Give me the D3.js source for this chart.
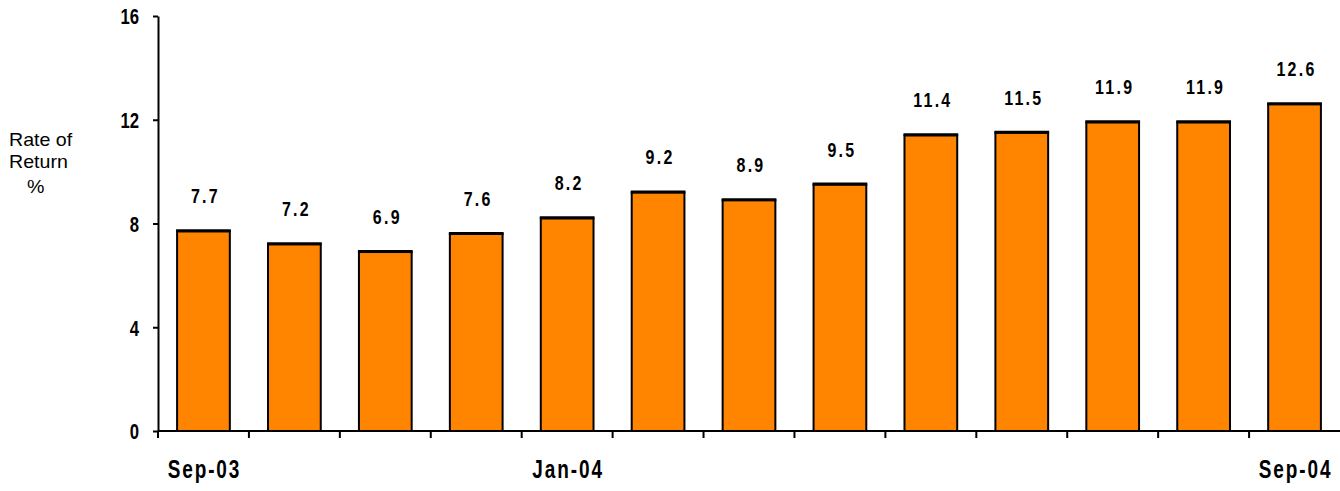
<!DOCTYPE html>
<html>
<head>
<meta charset="utf-8">
<script src="https://cdn.jsdelivr.net/npm/d3@7"></script>
<style>
  body { margin: 0; background: #fff; }
  .axis path, .axis line { stroke: #000; stroke-width: 2; }
  .narrow { font-family: "Liberation Sans", Arial, sans-serif; font-weight: bold; fill: #000; }
  .ylab { font-family: "Liberation Sans", Arial, sans-serif; font-size: 18.5px; }
</style>
</head>
<body>
<svg width="1340" height="491"></svg>
<script>
let months = ["Sep-03", "Oct-03", "Nov-03", "Dec-03", "Jan-04", "Feb-04", "Mar-04",
              "Apr-04", "May-04", "Jun-04", "Jul-04", "Aug-04", "Sep-04"];
let returns = [7.7, 7.2, 6.9, 7.6, 8.2, 9.2, 8.9, 9.5, 11.4, 11.5, 11.9, 11.9, 12.6];
let shownLabels = ["Sep-03", "Jan-04", "Sep-04"];
let yTicks = [0, 4, 8, 12, 16];

let data = months.map((m, i) => ({month: m, value: returns[i]}));

let svg = d3.select("svg"),
    margin = {top: 16, right: 0, bottom: 60, left: 158},
    width = +svg.attr("width") - margin.left - margin.right,
    height = +svg.attr("height") - margin.top - margin.bottom;

let x = d3.scaleBand().domain(months).range([0, width]).paddingInner(0.42).paddingOuter(0.21),
    y = d3.scaleLinear().domain([0, 16]).range([height, 0]);

let squeeze = 0.76; // fake a narrow bold face

let g = svg.append("g")
    .attr("transform", "translate(" + margin.left + "," + margin.top + ")");

// bars
g.selectAll(".bar")
    .data(data)
    .enter().append("rect")
    .attr("class", "bar")
    .attr("x", d => x(d.month))
    .attr("y", d => y(d.value))
    .attr("width", x.bandwidth())
    .attr("height", d => height - y(d.value))
    .attr("fill", "#FF8400")
    .attr("stroke", "#000")
    .attr("stroke-width", 2);

// thicker top edge
g.selectAll(".bartop")
    .data(data)
    .enter().append("line")
    .attr("x1", d => x(d.month) - 1)
    .attr("x2", d => x(d.month) + x.bandwidth() + 1)
    .attr("y1", d => y(d.value) - 0.5)
    .attr("y2", d => y(d.value) - 0.5)
    .attr("stroke", "#000")
    .attr("stroke-width", 3);

// value labels
g.selectAll(".val")
    .data(data)
    .enter().append("text")
    .attr("class", "narrow")
    .attr("transform", d => "translate(" + (x(d.month) + x.bandwidth() / 2 + 2) + "," + (y(d.value) - 28) + ") scale(" + squeeze + ",1)")
    .attr("text-anchor", "middle")
    .attr("font-size", 21)
    .attr("letter-spacing", "3px")
    .text(d => d.value.toFixed(1));

// y axis
let yAxis = g.append("g")
    .attr("class", "axis")
    .call(d3.axisLeft(y).tickValues(yTicks).tickSize(5).tickSizeOuter(0).tickPadding(0));
yAxis.selectAll("text")
    .attr("class", "narrow")
    .attr("font-size", 22)
    .attr("x", -19 / squeeze)
    .attr("dy", "0.36em")
    .attr("transform", "scale(" + squeeze + ",1)");

// x axis: ticks on band boundaries
let bounds = months.map(m => x(m) - x.step() * x.paddingInner() / 2);
let xAxisG = g.append("g")
    .attr("class", "axis")
    .attr("transform", "translate(0," + height + ")");
xAxisG.append("line")
    .attr("x1", 0).attr("x2", width)
    .attr("y1", 0).attr("y2", 0);
xAxisG.selectAll(".tick")
    .data(bounds)
    .enter().append("line")
    .attr("x1", d => d).attr("x2", d => d)
    .attr("y1", 0).attr("y2", 7);
xAxisG.selectAll(".xlab")
    .data(months.filter(m => shownLabels.includes(m)))
    .enter().append("text")
    .attr("class", "narrow")
    .attr("transform", d => "translate(" + (x(d) + x.bandwidth() / 2 + 1) + ",47) scale(" + squeeze + ",1)")
    .attr("text-anchor", "middle")
    .attr("font-size", 25)
    .attr("letter-spacing", "2.5px")
    .text(d => d);

// y label
let ylab = svg.append("text").attr("class", "ylab")
    .attr("transform", "translate(9,0) scale(1.06,1)");
ylab.append("tspan").attr("x", 0).attr("y", 146).text("Rate of");
ylab.append("tspan").attr("x", 0).attr("y", 168).text("Return");
ylab.append("tspan").attr("x", 17).attr("y", 193).text("%");
</script>
</body>
</html>
